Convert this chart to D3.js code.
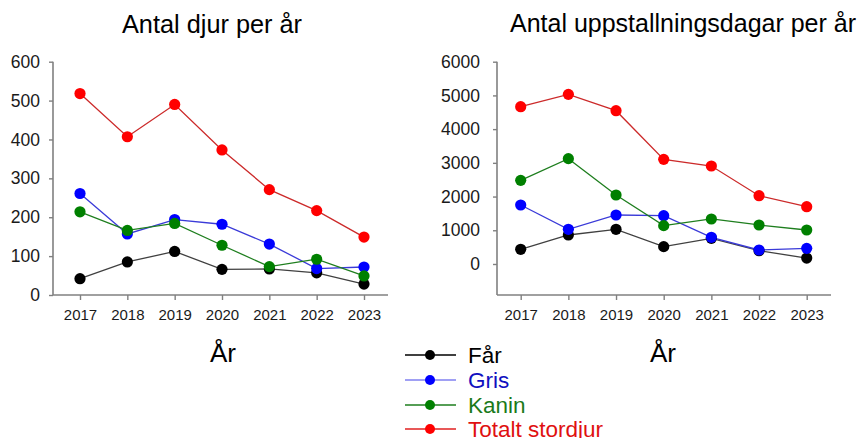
<!DOCTYPE html>
<html><head><meta charset="utf-8">
<script src="https://cdn.jsdelivr.net/npm/d3@7"></script>
<style>
html,body{margin:0;padding:0;background:#fff;}
svg{display:block;font-family:"Liberation Sans",Arial,sans-serif;}
</style></head>
<body><svg id="c" width="864" height="438"></svg>
<script>
const years = ["2017","2018","2019","2020","2021","2022","2023"];
const seriesNames = ["Får","Gris","Kanin","Totalt stordjur"];
// Antal djur per år
const djurFar    = [42, 85, 112, 66, 67, 57, 28];
const djurGris   = [261, 157, 194, 182, 131, 68, 72];
const djurKanin  = [214, 166, 184, 128, 73, 92, 49];
const djurTotalt = [518, 407, 490, 373, 271, 217, 149];
// Antal uppstallningsdagar per år
const dagFar    = [435, 860, 1028, 514, 761, 395, 175];
const dagGris   = [1750, 1028, 1453, 1433, 791, 415, 464];
const dagKanin  = [2481, 3124, 2046, 1137, 1335, 1157, 1008];
const dagTotalt = [4666, 5032, 4547, 3104, 2906, 2026, 1700];
const leftTicks = [0,100,200,300,400,500,600];
const rightTicks = [0,1000,2000,3000,4000,5000,6000];
const titles = ["Antal djur per år","Antal uppstallningsdagar per år"];
const xTitle = "År";

const markColors = ["#000000","#0000ff","#008000","#ff0000"];
const lineColors = ["#404040","#3a3ad8","#1e7e1e","#cc2a2a"];
const legendLineColors = ["#000000","#8080f0","#1e7e1e","#e02020"];
const textColors = ["#000000","#1010c0","#1a7a1a","#e01010"];

const svg = d3.select("#c");
const axisColor = "#808080";

function panel(cfg){
  const g = svg.append("g");
  const x = d3.scalePoint().domain(years).range([cfg.x0, cfg.x1]);
  const y = d3.scaleLinear().domain(cfg.yDomain).range([cfg.yBottom, cfg.yTop]);
  // y axis
  const ya = g.append("g").attr("transform",`translate(${cfg.axisX},0)`)
    .call(d3.axisLeft(y).tickValues(cfg.ticks).tickSize(4).tickSizeOuter(0).tickPadding(cfg.yPad).tickFormat(d3.format("d")));
  ya.select(".domain").remove();
  ya.selectAll(".tick line").attr("stroke",axisColor).attr("stroke-width",1.4);
  ya.selectAll(".tick text").attr("font-size",17.5).attr("fill","#1a1a1a").attr("font-family","Liberation Sans, Arial, sans-serif");
  g.append("line").attr("x1",cfg.axisX).attr("x2",cfg.axisX).attr("y1",y(cfg.ticks[cfg.ticks.length-1])).attr("y2",cfg.yBottom)
    .attr("stroke",axisColor).attr("stroke-width",1.6);
  // x axis
  const xa = g.append("g").attr("transform",`translate(0,${cfg.yBottom})`)
    .call(d3.axisBottom(x).tickSize(5).tickSizeOuter(0).tickPadding(9));
  xa.select(".domain").remove();
  xa.selectAll(".tick line").attr("stroke",axisColor).attr("stroke-width",1.4);
  xa.selectAll(".tick text").attr("font-size",15).attr("fill","#1a1a1a").attr("font-family","Liberation Sans, Arial, sans-serif");
  g.append("line").attr("x1",cfg.axisX).attr("x2",cfg.xEnd).attr("y1",cfg.yBottom).attr("y2",cfg.yBottom)
    .attr("stroke",axisColor).attr("stroke-width",1.6);
  // series
  const line = d3.line().x((d,i)=>x(years[i])).y(d=>y(d));
  cfg.series.forEach((s,k)=>{
    g.append("path").attr("d",line(s)).attr("fill","none").attr("stroke",lineColors[k]).attr("stroke-width",1.3);
  });
  cfg.series.forEach((s,k)=>{
    g.selectAll(null).data(s).enter().append("circle")
      .attr("cx",(d,i)=>x(years[i])).attr("cy",d=>y(d)).attr("r",5.6).attr("fill",markColors[k]);
  });
  // title
  g.append("text").attr("x",cfg.titleX).attr("y",cfg.titleY).attr("text-anchor","middle")
    .attr("font-size",cfg.titleSize).attr("fill","#000").text(cfg.title);
  g.append("text").attr("x",cfg.xTitleX).attr("y",362).attr("text-anchor","middle")
    .attr("font-size",26).attr("fill","#000").text(xTitle);
}

panel({x0:80, x1:364, axisX:53, xEnd:388, yDomain:[0,600], yBottom:295, yTop:61.7, ticks:leftTicks, yPad:9,
  series:[djurFar,djurGris,djurKanin,djurTotalt], title:titles[0], titleX:212, titleY:33, titleSize:25.3, xTitleX:223});
panel({x0:520.7, x1:806.7, axisX:497, xEnd:831, yDomain:[-920,6000], yBottom:295, yTop:61.7, ticks:rightTicks, yPad:13,
  series:[dagFar,dagGris,dagKanin,dagTotalt], title:titles[1], titleX:683, titleY:32, titleSize:25, xTitleX:663});

// legend
const lg = svg.append("g");
const rowsY = [355, 380, 405, 429];
seriesNames.forEach((n,k)=>{
  lg.append("line").attr("x1",405).attr("x2",456).attr("y1",rowsY[k]).attr("y2",rowsY[k])
    .attr("stroke",legendLineColors[k]).attr("stroke-width",1.3);
  lg.append("circle").attr("cx",430).attr("cy",rowsY[k]).attr("r",5).attr("fill",markColors[k]);
  lg.append("text").attr("x",468).attr("y",rowsY[k]+7.5).attr("font-size",22.5).attr("fill",textColors[k]).text(n);
});
</script></body></html>
